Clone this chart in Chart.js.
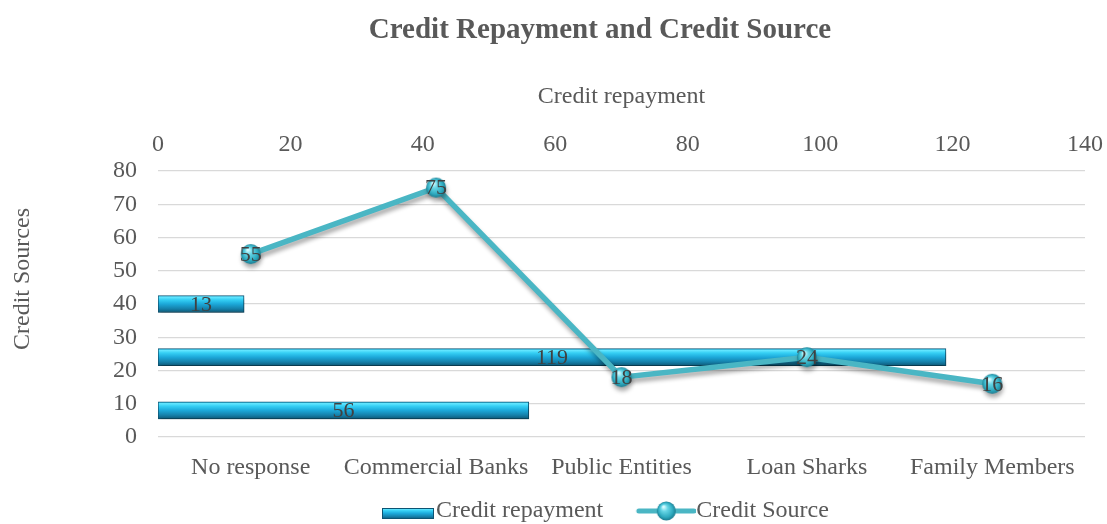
<!DOCTYPE html>
<html>
<head>
<meta charset="utf-8">
<title>Credit Repayment and Credit Source</title>
<script src="https://cdn.jsdelivr.net/npm/chart.js@4.4.1/dist/chart.umd.min.js"></script>
<style>
  html, body { margin: 0; padding: 0; background: #ffffff; }
  #wrap { width: 1107px; height: 524px; }
  canvas { display: block; }
</style>
</head>
<body>
<div id="wrap"><canvas id="chart" width="1107" height="524"></canvas></div>
<script>
// ---- data ----
const categories = ['No response', 'Commercial Banks', 'Public Entities', 'Loan Sharks', 'Family Members'];
const creditRepayment = [56, 119, 13, null, null];
const creditSource = [55, 75, 18, 24, 16];
const repaymentAxisRange = [0, 140];
const sourceAxisRange = [0, 80];

// ---- styling ----
const SERIF = "'Liberation Serif', 'Times New Roman', serif";
const TEXT = '#595959';
const LABEL = '#404040';
const LINE = '#4ab6c4';

function sphere(g, cx, cy, r) {
  const grad = g.createRadialGradient(cx - r * 0.3, cy - r * 0.45, r * 0.08, cx, cy, r);
  grad.addColorStop(0, '#d6fbff');
  grad.addColorStop(0.3, '#67d6e6');
  grad.addColorStop(0.75, '#2eaabf');
  grad.addColorStop(1, '#1b7c90');
  g.fillStyle = grad;
  g.beginPath();
  g.arc(cx, cy, r, 0, Math.PI * 2);
  g.fill();
}

function barGradient(g, y0, y1) {
  const grad = g.createLinearGradient(0, y0, 0, y1);
  grad.addColorStop(0, '#2fc4ec');
  grad.addColorStop(0.1, '#62e6ff');
  grad.addColorStop(0.25, '#35cff4');
  grad.addColorStop(0.5, '#1ca8d9');
  grad.addColorStop(0.78, '#1580aa');
  grad.addColorStop(1, '#0d5876');
  return grad;
}

// point marker
const marker = document.createElement('canvas');
marker.width = 22; marker.height = 22;
sphere(marker.getContext('2d'), 11, 11, 10);

// legend icons (drawn offset inside a wider transparent canvas)
const BOX_W = 71;
const barIcon = document.createElement('canvas');
barIcon.width = 91; barIcon.height = 24;
(function () {
  const g = barIcon.getContext('2d');
  g.fillStyle = barGradient(g, 9, 20);
  g.fillRect(39, 9, 52, 11);
  g.strokeStyle = '#0d5473';
  g.lineWidth = 1;
  g.strokeRect(39.5, 9.5, 51, 10);
})();
const lineIcon = document.createElement('canvas');
lineIcon.width = 94; lineIcon.height = 24;
(function () {
  const g = lineIcon.getContext('2d');
  g.strokeStyle = LINE;
  g.lineWidth = 5;
  g.lineCap = 'round';
  g.beginPath();
  g.moveTo(37, 12); g.lineTo(92, 12);
  g.stroke();
  sphere(g, 64.5, 12, 9.5);
})();

// soft drop shadow under bars and line
const shadows = {
  id: 'shadows',
  beforeDatasetDraw(chart) {
    const c = chart.ctx;
    c.save();
    c.shadowColor = 'rgba(0,0,0,0.33)';
    c.shadowBlur = 4;
    c.shadowOffsetX = 1;
    c.shadowOffsetY = 4;
  },
  afterDatasetDraw(chart) {
    chart.ctx.restore();
  }
};

// value labels centred on each bar and point
const valueLabels = {
  id: 'valueLabels',
  afterDatasetsDraw(chart) {
    const c = chart.ctx;
    c.save();
    c.font = '22px ' + SERIF;
    c.fillStyle = LABEL;
    c.textAlign = 'center';
    c.textBaseline = 'middle';
    chart.data.datasets.forEach((ds, di) => {
      const meta = chart.getDatasetMeta(di);
      meta.data.forEach((el, i) => {
        const v = ds.data[i];
        if (v === null || v === undefined) return;
        let x = el.x;
        if (ds.type === 'bar') x = (el.x + el.base) / 2;
        c.fillText(String(v), x, el.y + 1);
      });
    });
    c.restore();
  }
};

// vertical axis title for the left scale
const leftAxisTitle = {
  id: 'leftAxisTitle',
  afterDraw(chart) {
    const c = chart.ctx;
    c.save();
    c.translate(23, 279);
    c.rotate(-Math.PI / 2);
    c.font = '24px ' + SERIF;
    c.fillStyle = TEXT;
    c.textAlign = 'center';
    c.textBaseline = 'middle';
    c.fillText('Credit Sources', 0, 0);
    c.restore();
  }
};

// horizontal placement of the title and legend blocks
const blockPlacement = {
  id: 'blockPlacement',
  afterLayout(chart) {
    const t = chart.titleBlock;
    if (t) {
      const dx = 600 - (t.left + t.right) / 2;
      t.left += dx; t.right += dx;
    }
    const lg = chart.legend;
    if (lg && lg.lineWidths) {
      const pad = lg.options.labels.padding;
      const natural = (lg.left + pad + lg.right - lg.lineWidths[0]) / 2;
      const dx = 353 - natural;
      lg.left += dx; lg.right += dx;
      lg.top += 9; lg.bottom += 9;
    }
  }
};

// horizontal axes: let edge tick labels overhang the plot instead of shrinking it
function noSidePadding(s) {
  s.paddingLeft = 0;
  s.paddingRight = 0;
}

new Chart(document.getElementById('chart'), {
  type: 'bar',
  data: {
    labels: categories,
    datasets: [
      {
        type: 'line',
        label: 'Credit Source',
        data: creditSource,
        xAxisID: 'x',
        yAxisID: 'y',
        order: 0,
        borderColor: LINE,
        borderWidth: 5.5,
        tension: 0,
        fill: false,
        pointStyle: marker,
        pointRadius: 10,
        pointHoverRadius: 10
      },
      {
        type: 'bar',
        label: 'Credit repayment',
        data: creditRepayment,
        indexAxis: 'y',
        xAxisID: 'x2',
        yAxisID: 'y2',
        order: 1,
        grouped: false,
        barThickness: 17,
        maxBarThickness: 17,
        borderWidth: 1,
        borderColor: '#0d5473',
        borderSkipped: false,
        backgroundColor(ctx) {
          const chart = ctx.chart;
          const s = chart.scales.y2;
          if (ctx.type !== 'data' || !s || s.top === undefined) return '#1ba5d6';
          const yc = s.getPixelForValue(ctx.dataIndex);
          return barGradient(chart.ctx, yc - 8.5, yc + 8.5);
        }
      }
    ]
  },
  options: {
    responsive: false,
    animation: false,
    devicePixelRatio: 1,
    events: [],
    layout: { padding: { top: 0, left: 0, right: 22, bottom: 0 } },
    scales: {
      x: {
        type: 'category',
        axis: 'x',
        position: 'bottom',
        labels: categories,
        offset: true,
        grid: { display: false, drawTicks: false },
        border: { display: false },
        ticks: { color: TEXT, font: { family: SERIF, size: 24 }, padding: 16.6, maxRotation: 0, autoSkip: false },
        afterFit(s) { s.height = 43; noSidePadding(s); }
      },
      y: {
        type: 'linear',
        axis: 'y',
        position: 'left',
        min: sourceAxisRange[0],
        max: sourceAxisRange[1],
        grid: { color: '#d9d9d9', lineWidth: 1.3, drawTicks: false },
        border: { display: false },
        ticks: { stepSize: 10, color: TEXT, font: { family: SERIF, size: 24 }, padding: 21 },
        afterFit(s) { s.width = 158; }
      },
      x2: {
        type: 'linear',
        axis: 'x',
        position: 'top',
        min: repaymentAxisRange[0],
        max: repaymentAxisRange[1],
        offset: false,
        grid: { display: false, drawTicks: false },
        border: { display: false },
        ticks: { stepSize: 20, color: TEXT, font: { family: SERIF, size: 24 }, padding: 11.6, maxRotation: 0 },
        title: { display: true, text: 'Credit repayment', color: TEXT, font: { family: SERIF, size: 24 }, padding: { top: 34.2, bottom: 0 } },
        afterFit(s) { s.height = 122.6; noSidePadding(s); }
      },
      y2: {
        type: 'category',
        axis: 'y',
        position: 'left',
        labels: categories,
        reverse: true,
        offset: true,
        display: false
      }
    },
    plugins: {
      title: {
        display: true,
        text: 'Credit Repayment and Credit Source',
        color: TEXT,
        font: { family: SERIF, size: 29, weight: 'bold' },
        padding: { top: 13.6, bottom: 0 }
      },
      legend: {
        display: true,
        position: 'bottom',
        labels: {
          usePointStyle: true,
          pointStyleWidth: BOX_W,
          padding: 10,
          color: TEXT,
          font: { family: SERIF, size: 24 },
          generateLabels() {
            return [
              { text: 'Credit repayment', pointStyle: barIcon, datasetIndex: 1, fontColor: TEXT, hidden: false, lineWidth: 0, strokeStyle: 'rgba(0,0,0,0)', fillStyle: 'rgba(0,0,0,0)' },
              { text: 'Credit Source', pointStyle: lineIcon, datasetIndex: 0, fontColor: TEXT, hidden: false, lineWidth: 0, strokeStyle: 'rgba(0,0,0,0)', fillStyle: 'rgba(0,0,0,0)' }
            ];
          }
        }
      },
      tooltip: { enabled: false }
    }
  },
  plugins: [shadows, valueLabels, leftAxisTitle, blockPlacement]
});
</script>
</body>
</html>
